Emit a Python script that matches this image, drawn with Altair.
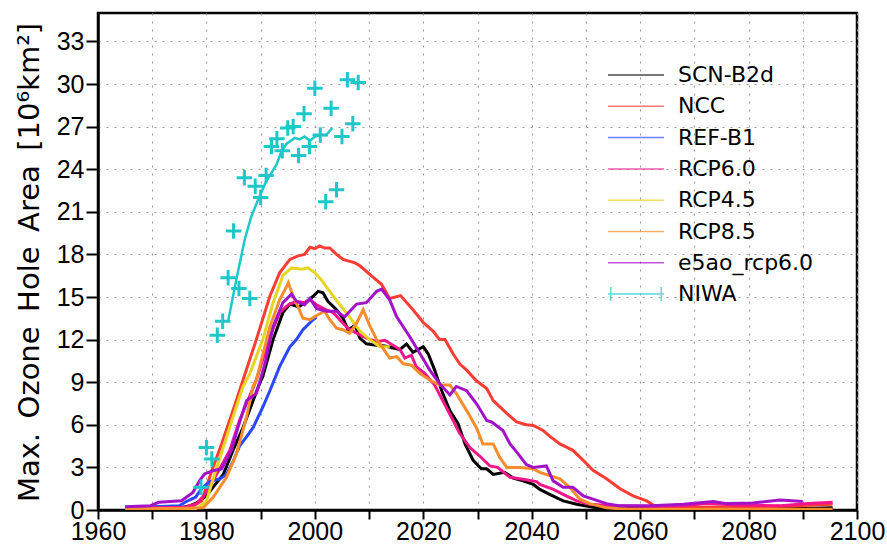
import altair as alt
import pandas as pd

SERIES = ["SCN-B2d", "NCC", "REF-B1", "RCP6.0", "RCP4.5", "RCP8.5", "e5ao_rcp6.0", "NIWA"]
COLORS = ["#000000", "#fa3d34", "#2a48ff", "#f2168a", "#e6d522", "#f78d2c", "#a412c8", "#1ec8c8"]

scn_b2d = [(1965, 0.08), (1970, 0.1), (1975, 0.15), (1977, 0.3), (1978.2, 0.5), (1980, 1.0), (1981.2, 1.6),
           (1983.1, 2.5), (1984.9, 4.2), (1986.75, 5.8), (1988.6, 7.7), (1989.8, 8.9), (1990.4, 9.4),
           (1992.3, 12.0), (1994.1, 13.9), (1995.4, 14.5), (1997.0, 14.3), (1998.2, 14.6), (1999.7, 15.05),
           (2000.6, 15.4), (2001.5, 15.3), (2002.4, 14.7), (2004.0, 14.1), (2005.2, 13.5), (2006.1, 12.7),
           (2007.4, 13.0), (2008.3, 12.1), (2009.5, 11.7), (2011.4, 11.6), (2012.9, 11.55), (2015.7, 11.3),
           (2016.9, 11.7), (2018.1, 11.1), (2020.0, 11.5), (2020.9, 11.0), (2022.1, 9.85), (2023.4, 8.4),
           (2024.9, 7.0), (2026.4, 6.1), (2027.7, 4.65), (2029.2, 3.5), (2030.7, 2.9), (2031.7, 2.9),
           (2032.9, 2.5), (2035.0, 2.65), (2036.6, 2.25), (2038.4, 2.05), (2040.3, 1.8), (2041.5, 1.45),
           (2043.3, 1.1), (2045.8, 0.64), (2048.3, 0.4), (2051.3, 0.2), (2055, 0.1), (2070, 0.1),
           (2090, 0.1), (2095.5, 0.15)]

ncc = [(1965, 0.1), (1977, 0.15), (1979.1, 0.64), (1981.2, 3.0), (1982.8, 4.65), (1984.9, 7.0), (1986.1, 8.4),
       (1989.2, 12.0), (1991.7, 15.05), (1993.5, 16.7), (1995.4, 17.65), (1996.9, 17.9), (1998.1, 18.0),
       (1999.1, 18.5), (2000.0, 18.4), (2000.9, 18.6), (2001.8, 18.45), (2002.75, 18.45), (2004.0, 18.0),
       (2005.2, 17.65), (2007.4, 17.4), (2008.3, 17.2), (2010.4, 16.5), (2012.3, 15.9), (2013.8, 14.9),
       (2015.8, 15.1), (2018.1, 14.1), (2020.0, 13.2), (2021.8, 12.6), (2023.0, 12.0), (2024.0, 12.0),
       (2025.5, 11.0), (2026.7, 10.3), (2028.0, 9.85), (2029.8, 9.1), (2031.7, 8.55), (2032.9, 7.7),
       (2035.4, 6.8), (2037.2, 6.2), (2039.0, 6.0), (2040.3, 5.95), (2042.1, 5.6), (2043.3, 5.2),
       (2045.2, 4.65), (2047.6, 4.2), (2049.5, 3.5), (2051.3, 2.8), (2053.8, 2.2), (2056.3, 1.5),
       (2058.7, 1.0), (2061.2, 0.64), (2062.7, 0.28), (2066, 0.2), (2078, 0.2), (2088, 0.28), (2095.5, 0.4)]

ref_b1 = [(1965, 0.15), (1975, 0.3), (1976.3, 0.6), (1978, 0.9), (1979.1, 1.5), (1980.6, 2.0), (1982.5, 2.2),
          (1983.7, 2.5), (1985, 3.5), (1986.1, 4.5), (1987.3, 5.1), (1988.6, 5.8), (1990.4, 7.25),
          (1991.7, 8.4), (1993.5, 10.1), (1995.4, 11.5), (1996.6, 12.0), (1997.8, 12.7), (1999.4, 13.3),
          (2000.3, 13.6)]

rcp60 = [(1965, 0.12), (1976, 0.2), (1978.2, 0.45), (1979.5, 1.0), (1980.5, 1.6), (1982.3, 2.8), (1984.3, 4.2),
         (1986.1, 6.3), (1989.2, 9.15), (1991.7, 12.2), (1993.5, 13.9), (1995.1, 14.45), (1996.6, 14.7),
         (1998.1, 14.6), (1999.1, 14.8), (2000.3, 14.45), (2002.1, 14.1), (2003.4, 13.9), (2004.6, 13.4),
         (2006.1, 12.8), (2007.7, 12.45), (2009.5, 12.1), (2011.4, 11.85), (2012.9, 11.95), (2015.7, 11.3),
         (2016.6, 10.7), (2017.8, 10.9), (2018.7, 10.1), (2020.3, 9.6), (2022.1, 8.8), (2024.0, 7.4),
         (2025.5, 6.3), (2026.7, 5.4), (2028.6, 4.4), (2030.4, 3.8), (2032.3, 3.1), (2033.7, 3.0),
         (2036.0, 2.3), (2037.8, 2.2), (2040.9, 2.0), (2041.5, 1.8), (2044.0, 1.45), (2045.8, 1.1),
         (2048.3, 0.64), (2050.7, 0.4), (2055, 0.3), (2062, 0.25), (2068, 0.3), (2072, 0.45), (2078, 0.35),
         (2086, 0.3), (2091, 0.45), (2095.5, 0.55)]

rcp45 = [(1965, 0.05), (1978, 0.1), (1978.8, 0.25), (1980.0, 0.64), (1981.5, 2.5), (1983.1, 4.4), (1984.9, 6.55),
         (1986.75, 8.7), (1988.0, 9.6), (1990.4, 12.0), (1992.3, 14.6), (1994.1, 16.5), (1995.7, 17.05),
         (1997.6, 16.95), (1998.7, 17.05), (2000.0, 16.7), (2001.2, 16.2), (2002.75, 15.4), (2004.6, 14.45),
         (2006.1, 13.75), (2008.3, 12.6), (2010.1, 12.0), (2012.0, 11.5), (2013.8, 11.5)]

rcp85 = [(1965, 0.02), (1979.4, 0.15), (1981.2, 0.87), (1983.7, 2.3), (1985.5, 3.9), (1987.4, 6.55), (1988.6, 8.7),
         (1989.2, 9.15), (1991.7, 12.9), (1993.5, 14.8), (1994.8, 15.75), (1995.1, 16.0), (1996.0, 15.05),
         (1996.9, 14.3), (1997.8, 13.5), (1999.1, 13.4), (2000.3, 13.7), (2001.8, 14.0), (2002.75, 13.4),
         (2004.0, 12.8), (2005.2, 12.7), (2006.4, 12.45), (2007.7, 13.15), (2008.9, 14.1), (2010.1, 13.0),
         (2011.4, 12.0), (2012.0, 11.7), (2013.8, 10.7), (2015.1, 10.8), (2016.3, 10.3), (2017.8, 10.2),
         (2019.4, 9.6), (2021.2, 9.15), (2023.0, 8.8), (2024.9, 8.8), (2026.1, 8.2), (2028.0, 7.0),
         (2029.8, 5.8), (2031.0, 4.65), (2032.9, 4.65), (2034.1, 3.7), (2035.4, 3.0), (2037.8, 3.0),
         (2040.3, 2.9), (2041.5, 2.65), (2045.2, 2.2), (2047.0, 1.6), (2048.9, 0.76), (2050.7, 0.45),
         (2053.8, 0.15), (2058, 0.05), (2095.5, 0.05)]

e5ao_rcp60 = [(1965, 0.23), (1969.7, 0.3), (1971.2, 0.54), (1975.4, 0.65), (1976.3, 0.9), (1977.5, 1.24),
              (1978.8, 2.1), (1979.7, 2.55), (1981.2, 2.77), (1982.8, 2.9), (1984.6, 4.2), (1985.8, 5.8),
              (1987.4, 7.7), (1989.2, 8.2), (1990.8, 10.3), (1992.3, 12.9), (1994.1, 14.6), (1995.7, 15.2),
              (1996.6, 14.7), (1998.1, 14.45), (1999.1, 14.9), (2000.3, 14.2), (2002.1, 14.0), (2004.0, 14.0),
              (2005.5, 13.6), (2007.7, 14.5), (2009.5, 14.6), (2011.4, 15.4), (2012.3, 15.55), (2013.8, 14.8),
              (2015.1, 13.6), (2017.5, 12.2), (2019.4, 11.0), (2021.2, 9.85), (2023.0, 8.9), (2024.9, 8.1),
              (2026.1, 8.7), (2028.0, 8.4), (2029.8, 7.5), (2031.7, 6.3), (2032.6, 6.2), (2034.7, 5.6),
              (2036.0, 4.65), (2037.5, 3.95), (2039.0, 3.2), (2040.3, 3.0), (2042.7, 3.1), (2043.95, 2.05),
              (2045.8, 1.6), (2047.6, 1.6), (2049.5, 1.0), (2051.3, 0.76), (2053.8, 0.45), (2056, 0.3),
              (2062, 0.3), (2068, 0.4), (2073.5, 0.6), (2076, 0.45), (2080.8, 0.5), (2085.8, 0.7),
              (2088, 0.65), (2090, 0.6)]

niwa_line = [(1984.0, 13.3), (1985.5, 16.2), (1987.1, 19.1), (1988.3, 20.7), (1989.8, 22.1), (1991.1, 23.2),
             (1992.9, 24.3), (1993.8, 25.2), (1994.8, 25.8), (1996.3, 26.2), (1997.2, 26.1), (1998.1, 26.3),
             (1999.1, 26.0), (2000.0, 26.3), (2000.9, 26.4), (2002.1, 26.4), (2003.2, 26.9)]

niwa_years = list(range(1979, 2009))
niwa_values = [1.6, 4.4, 3.6, 12.3, 13.3, 16.35, 19.65, 15.6, 23.4, 14.9, 22.8, 22.0, 23.55, 25.6, 26.15,
               25.3, 26.9, 27.0, 24.97, 27.9, 25.6, 29.7, 26.4, 21.7, 28.3, 22.55, 26.3, 30.3, 27.2, 30.1]

X_TICKS = list(range(1960, 2101, 10))
Y_TICKS = list(range(0, 34, 3))

series_points = [scn_b2d, ncc, ref_b1, rcp60, rcp45, rcp85, e5ao_rcp60, niwa_line]
rows = []
for k, (name, pts) in enumerate(zip(SERIES, series_points)):
    for yr, v in pts:
        rows.append({"series": name, "year": yr, "value": v, "k": k})
df_all = pd.DataFrame(rows)
df_models = df_all[df_all["series"] != "NIWA"]
df_niwa_line = df_all[df_all["series"] == "NIWA"]
df_niwa_pts = pd.DataFrame({"year": niwa_years, "value": niwa_values})
df_legend = df_all.groupby("series", sort=False).head(1)

LINE_SYM = "M-1,0H1"
NIWA_SYM = "M-1,0H1M-0.9,-0.25V0.25M0.9,-0.25V0.25"
CROSS = "M-1,0H1M0,-1V1"

color_scale = alt.Scale(domain=SERIES, range=COLORS)
shape_scale = alt.Scale(domain=SERIES, range=[LINE_SYM] * 7 + [NIWA_SYM])

TICK_FONT = "Liberation Sans"
TEXT_FONT = "DejaVu Sans"

x_axis = alt.Axis(values=X_TICKS, format="d", labelExpr="datum.value % 20 == 0 ? datum.label : ''",
                  tickSize=9, tickWidth=2, tickColor="black", domainColor="black", domainWidth=2.5,
                  labelFont=TICK_FONT, labelFontSize=25, labelColor="black", labelPadding=0,
                  labelOverlap=False, labelFlush=False, grid=True, gridColor="#9a9a9a",
                  gridDash=[2, 6], gridWidth=1, title=None)
y_axis = alt.Axis(values=Y_TICKS, tickSize=12, tickWidth=2, tickColor="black", domainColor="black",
                  domainWidth=2.5, labelFont=TICK_FONT, labelFontSize=25, labelColor="black",
                  labelPadding=2, labelOverlap=False, labelFlush=False, grid=True, gridColor="#9a9a9a",
                  gridDash=[2, 6], gridWidth=1,
                  title="Max.\u2002Ozone\u2002Hole\u2002Area\u2002[10\u2076km\u00b2]",
                  titleFont=TEXT_FONT, titleFontSize=29, titleFontWeight="normal", titleColor="black",
                  titlePadding=12, titleY=249)

x_enc = alt.X("year:Q", scale=alt.Scale(domain=[1960, 2100], nice=False, zero=False), axis=x_axis)
y_enc = alt.Y("value:Q", scale=alt.Scale(domain=[0, 35], nice=False), axis=y_axis)

leg = alt.Legend(title=None, orient="none", legendX=509, legendY=52, direction="vertical",
                 symbolSize=3136, symbolStrokeWidth=1.5, clipHeight=20, rowPadding=9.3,
                 labelFont=TEXT_FONT, labelFontSize=22, labelColor="black", labelOffset=13,
                 padding=0, symbolOffset=0, labelLimit=300)

lines = alt.Chart(df_models).mark_line(strokeWidth=3, clip=True).encode(
    x=x_enc, y=y_enc,
    color=alt.Color("series:N", scale=color_scale, legend=leg),
    detail="k:Q",
)

niwa_ln = alt.Chart(df_niwa_line).mark_line(strokeWidth=2.5, clip=True).encode(
    x=x_enc, y=y_enc,
    color=alt.Color("series:N", scale=color_scale, legend=leg),
)

niwa_pts = alt.Chart(df_niwa_pts).mark_point(shape=CROSS, size=240, strokeWidth=3, filled=False,
                                              color="#1ec8c8", opacity=1, clip=True).encode(
    x=x_enc, y=y_enc,
)

legend_layer = alt.Chart(df_legend).mark_point(size=0, filled=False, strokeWidth=1.5).encode(
    x=x_enc, y=y_enc,
    color=alt.Color("series:N", scale=color_scale, legend=leg),
    shape=alt.Shape("series:N", scale=shape_scale, legend=leg),
)

chart = alt.layer(legend_layer, lines, niwa_ln, niwa_pts).properties(
    width=759, height=497,
    autosize=alt.AutoSizeParams(type="none"),
    padding={"left": 98, "top": 13, "right": 30, "bottom": 34},
    background="white",
).configure_view(stroke="black", strokeWidth=2.5)

chart.save("out.html", embed_options={"renderer": "svg", "actions": False})
